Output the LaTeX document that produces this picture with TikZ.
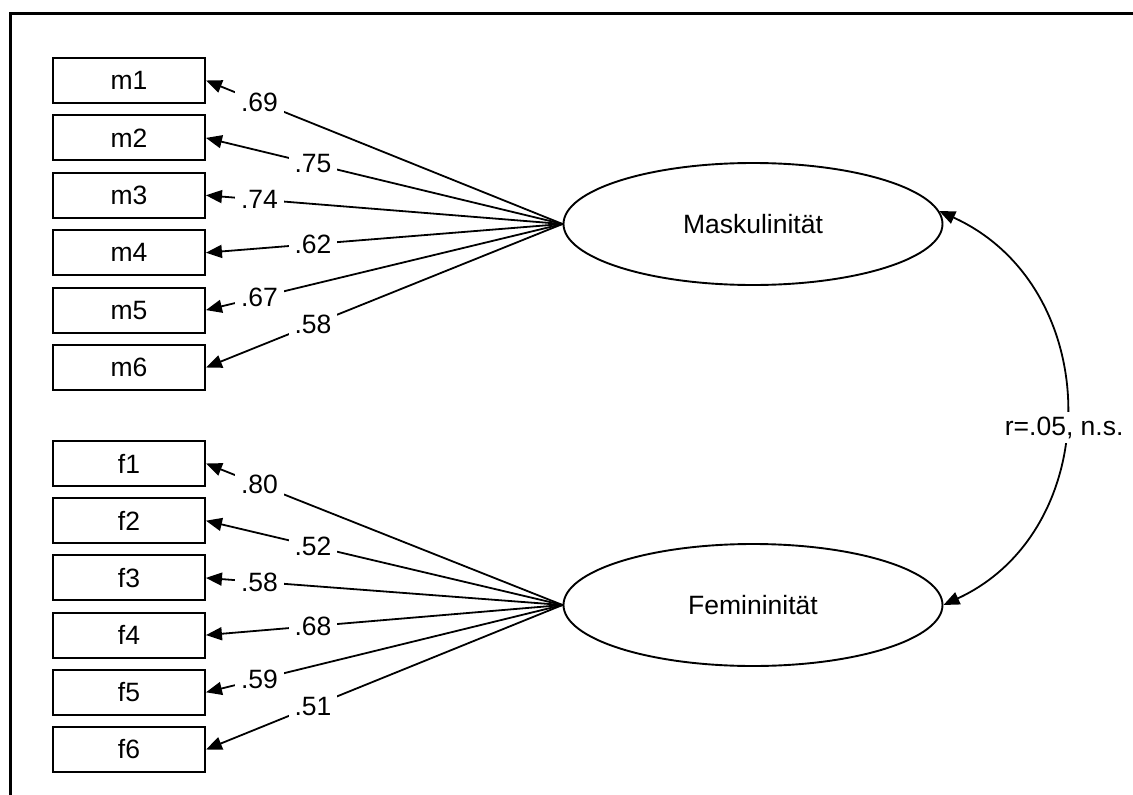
\documentclass[tikz,border=0pt]{standalone}
\usepackage{fontspec}
\setmainfont{Liberation Sans}
\usetikzlibrary{shapes.geometric,arrows.meta}
\tikzset{
  item/.style={draw, line width=1.9pt, minimum width=152pt, minimum height=45pt, inner sep=0pt},
  factor/.style={draw, ellipse, line width=1.9pt, minimum width=379pt, minimum height=122pt, inner sep=0pt},
  load/.style={-{Triangle[length=16pt,width=13pt]}, line width=1.8pt},
  corr/.style={{Triangle[length=16pt,width=13pt]}-{Triangle[length=16pt,width=13pt]}, line width=1.8pt},
  coef/.style={fill=white, inner xsep=6pt, inner ysep=4pt},
}
\begin{document}
\begin{tikzpicture}[x=1pt, y=-1pt, font=\fontsize{26.5}{30}\selectfont]
\useasboundingbox (0,0) rectangle (1133,795);
% frame
\draw[line width=3pt] (10,795) -- (10,13) -- (1133,13);

% latent factors
\node[factor] (M) at (753,224) {Maskulinität};
\node[factor] (F) at (753,605) {Femininität};

% indicator boxes
\foreach \i in {1,...,6} {
  \node[item] (m\i) at (129,{80.5+57.4*(\i-1)}) {m\i};
  \node[item] (f\i) at (129,{463.5+57.2*(\i-1)}) {f\i};
}

% loadings
\draw[load] (M.west) -- node[coef, pos=0.85] {.69} (m1.east);
\draw[load] (M.west) -- node[coef, pos=0.70] {.75} (m2.east);
\draw[load] (M.west) -- node[coef, pos=0.85] {.74} (m3.east);
\draw[load] (M.west) -- node[coef, pos=0.70] {.62} (m4.east);
\draw[load] (M.west) -- node[coef, pos=0.85] {.67} (m5.east);
\draw[load] (M.west) -- node[coef, pos=0.70] {.58} (m6.east);

\draw[load] (F.west) -- node[coef, pos=0.85] {.80} (f1.east);
\draw[load] (F.west) -- node[coef, pos=0.70] {.52} (f2.east);
\draw[load] (F.west) -- node[coef, pos=0.85] {.58} (f3.east);
\draw[load] (F.west) -- node[coef, pos=0.70] {.68} (f4.east);
\draw[load] (F.west) -- node[coef, pos=0.85] {.59} (f5.east);
\draw[load] (F.west) -- node[coef, pos=0.70] {.51} (f6.east);

% factor correlation
\draw[corr] (M.4) .. controls (1106,287) and (1106,530) .. node[coef, pos=0.54, inner xsep=3pt, inner ysep=5pt] {r=.05, n.s.} (F.east);
\end{tikzpicture}
\end{document}
